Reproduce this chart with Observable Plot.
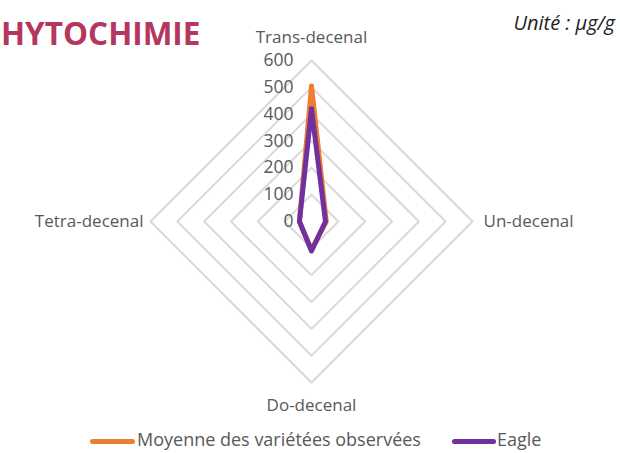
<!DOCTYPE html>
<html>
<head>
<meta charset="utf-8">
<script src="https://cdn.jsdelivr.net/npm/d3@7"></script>
<script src="https://cdn.jsdelivr.net/npm/@observablehq/plot@0.6"></script>
<style>
  html, body { margin: 0; padding: 0; background: #fff; }
  #wrap { position: relative; width: 620px; height: 453px; overflow: hidden; font-family: "Open Sans", sans-serif; }
  #title { position: absolute; left: 1px; top: 14px; font-size: 31.5px; font-weight: 700; color: #b5375e; line-height: 1.2; }
  #unit { position: absolute; right: 5px; top: 11px; font-size: 20px; font-style: italic; color: #222; line-height: 1.2; }
  #legend { position: absolute; left: 0; top: 429px; width: 620px; height: 24px; font-size: 18px; color: #595959; line-height: 1.2; }
  .sw { position: absolute; height: 5px; border-radius: 3px; top: 10px; }
  .lt { position: absolute; top: 0; white-space: nowrap; }
  svg { position: absolute; left: 0; top: 0; }
</style>
</head>
<body>
<div id="wrap">
  <div id="chart"></div>
  <div id="title">HYTOCHIMIE</div>
  <div id="unit">Unité : µg/g</div>
  <div id="legend"></div>
</div>
<script>
// Data
const axesNames = ["Trans-decenal", "Un-decenal", "Do-decenal", "Tetra-decenal"];
const seriesNames = ["Moyenne des variétées observées", "Eagle"];
const seriesColors = ["#ED7D31", "#7030A0"];
const moyenneValues = [505, 55, 105, 45];
const eagleValues = [420, 52, 110, 45];
const tickValues = [0, 100, 200, 300, 400, 500, 600];
const maxValue = 600;

// direction per axis: top, right, bottom, left
const dirs = [[0, 1], [1, 0], [0, -1], [-1, 0]];

function polygon(values, name) {
  const pts = values.map((v, i) => ({x: dirs[i][0] * v, y: dirs[i][1] * v, s: name}));
  pts.push({...pts[0]});
  return pts;
}

const gridData = tickValues.filter(t => t > 0).flatMap(t =>
  [0, 1, 2, 3, 0].map(i => ({x: dirs[i][0] * t, y: dirs[i][1] * t, r: t}))
);

const seriesData = [
  ...polygon(moyenneValues, seriesNames[0]),
  ...polygon(eagleValues, seriesNames[1])
];

const tickData = tickValues.map(t => ({x: 0, y: t, label: String(t)}));

const labelData = axesNames.map((n, i) => ({x: dirs[i][0] * maxValue, y: dirs[i][1] * maxValue, name: n, i}));

const cx = 311, cy = 221, R = 161;

const chart = Plot.plot({
  width: 620,
  height: 453,
  margin: 0,
  x: {domain: [-maxValue, maxValue], range: [cx - R, cx + R], axis: null},
  y: {domain: [-maxValue, maxValue], range: [cy + R, cy - R], axis: null},
  color: {domain: seriesNames, range: seriesColors},
  style: {fontFamily: "Open Sans, sans-serif", background: "transparent"},
  marks: [
    Plot.line(gridData, {x: "x", y: "y", z: "r", stroke: "#d9d9d9", strokeWidth: 2}),
    Plot.line(seriesData, {x: "x", y: "y", z: "s", stroke: "s", strokeWidth: 5, strokeLinejoin: "round", strokeLinecap: "round"}),
    Plot.text(tickData, {x: "x", y: "y", text: "label", textAnchor: "end", dx: -18, fontSize: 17.5, fill: "#595959"}),
    Plot.text(labelData.filter(d => d.i === 0), {x: "x", y: "y", text: "name", dy: -23, fontSize: 17, fill: "#595959"}),
    Plot.text(labelData.filter(d => d.i === 1), {x: "x", y: "y", text: "name", dx: 11, textAnchor: "start", fontSize: 17, fill: "#595959"}),
    Plot.text(labelData.filter(d => d.i === 2), {x: "x", y: "y", text: "name", dy: 23, fontSize: 17, fill: "#595959"}),
    Plot.text(labelData.filter(d => d.i === 3), {x: "x", y: "y", text: "name", dx: -7, textAnchor: "end", fontSize: 17, fill: "#595959"})
  ]
});
document.getElementById("chart").appendChild(chart);

// Legend
const legend = document.getElementById("legend");
const legendPos = [[90, 45, 137], [452, 44, 497]];
seriesNames.forEach((n, i) => {
  const sw = document.createElement("div");
  sw.className = "sw";
  sw.style.left = legendPos[i][0] + "px";
  sw.style.width = legendPos[i][1] + "px";
  sw.style.background = seriesColors[i];
  legend.appendChild(sw);
  const t = document.createElement("div");
  t.className = "lt";
  t.style.left = legendPos[i][2] + "px";
  t.textContent = n;
  legend.appendChild(t);
});
</script>
</body>
</html>
